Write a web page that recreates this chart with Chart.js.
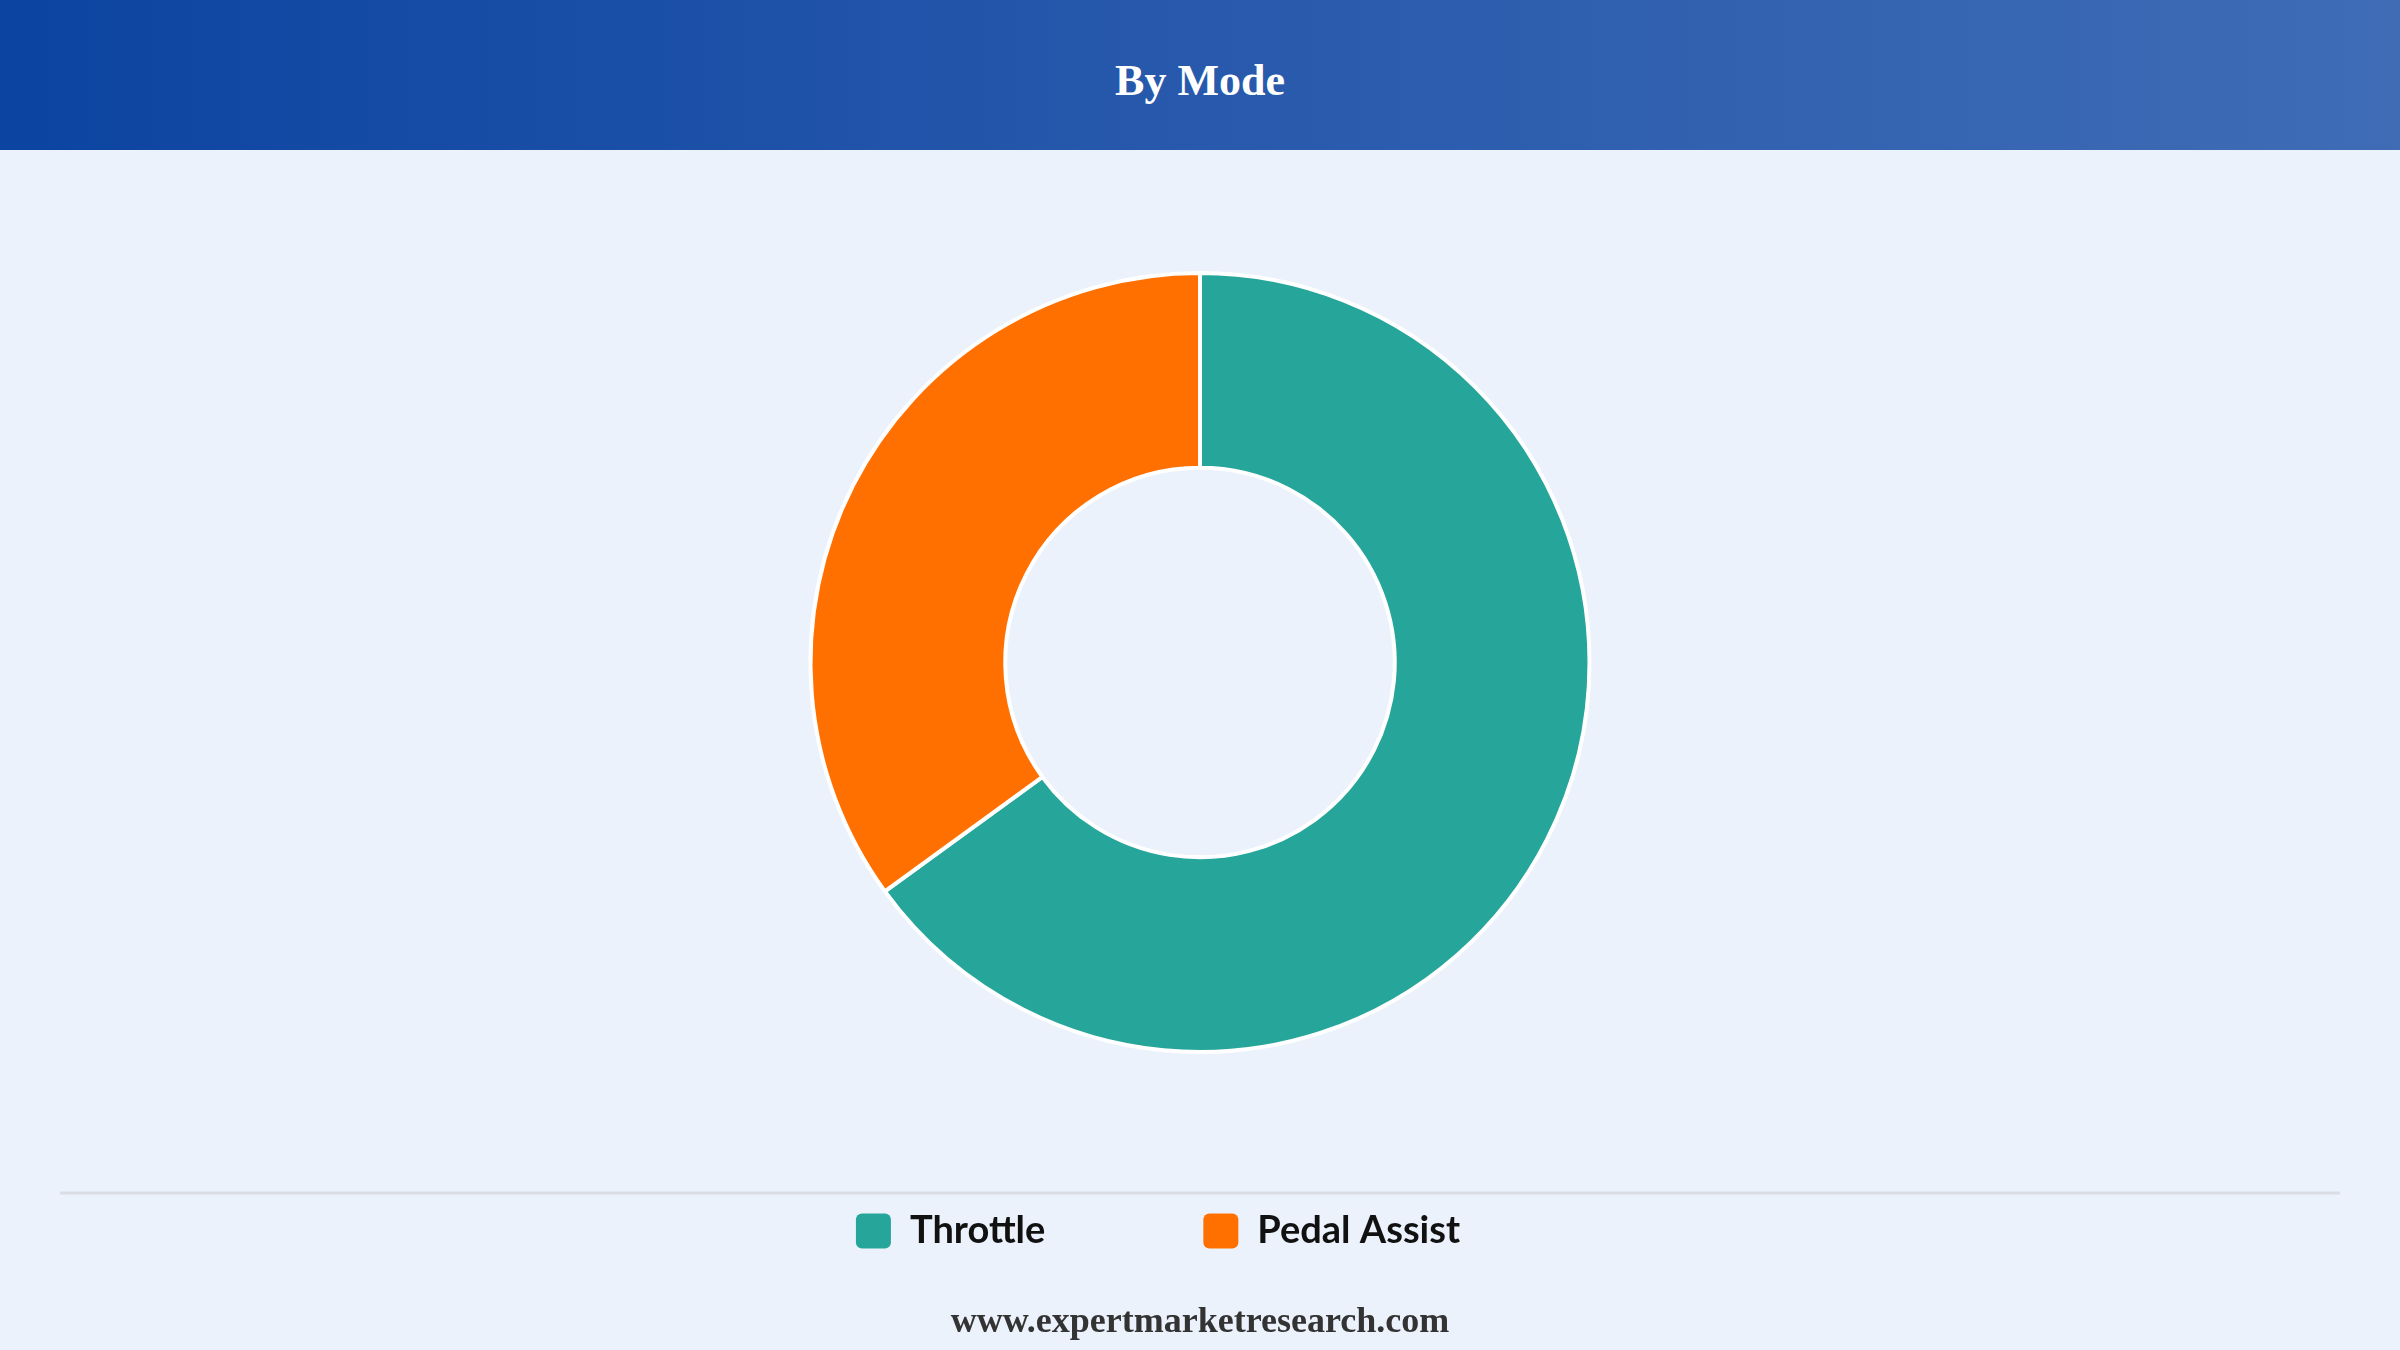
<!DOCTYPE html>
<html>
<head>
<meta charset="utf-8">
<title>By Mode</title>
<script src="https://cdn.jsdelivr.net/npm/chart.js@4.4.1/dist/chart.umd.min.js"></script>
<style>
    html, body {
        margin: 0;
        padding: 0;
        width: 2400px;
        height: 1350px;
        background: #ebf2fc;
        overflow: hidden;
    }
    .header {
        position: absolute;
        top: 0;
        left: 0;
        width: 2400px;
        height: 150px;
        background: linear-gradient(to right, #0b44a1, #2557ab 45%, #3f6cb5);
        color: #fff;
        font-family: "Liberation Serif", "Times New Roman", serif;
        font-weight: bold;
        font-size: 44px;
        text-align: center;
        line-height: 162px;
    }
    .chart-box {
        position: absolute;
        top: 150px;
        left: 0;
        width: 2400px;
        height: 1200px;
    }
    .footer {
        position: absolute;
        top: 1299px;
        left: 0;
        width: 2400px;
        text-align: center;
        font-family: "Liberation Serif", "Times New Roman", serif;
        font-weight: bold;
        font-size: 36px;
        color: #333;
    }
</style>
</head>
<body>
<div class="header">By Mode</div>
<div class="chart-box"><canvas id="modeChart"></canvas></div>
<div class="footer">www.expertmarketresearch.com</div>

<script>
// Chart data
const modeLabels = ['Throttle', 'Pedal Assist'];
const modeShares = [65, 35];
const modeColors = ['#26a69a', '#ff7000'];

// Legend sits a little left of centre in the original
const legendNudge = {
    id: 'legendNudge',
    afterLayout(chart) {
        chart.legend.left -= 42;
        chart.legend.right -= 42;
    }
};

// Draw the grey separator line above the legend
const separatorLine = {
    id: 'separatorLine',
    afterDraw(chart) {
        const legend = chart.legend;
        const ctx = chart.ctx;
        const y = legend.top + legend.options.labels.padding - 19;
        ctx.save();
        ctx.strokeStyle = '#dadde3';
        ctx.lineWidth = 3;
        ctx.beginPath();
        ctx.moveTo(60, y);
        ctx.lineTo(chart.width - 60, y);
        ctx.stroke();
        ctx.restore();
    }
};

const ctx = document.getElementById('modeChart').getContext('2d');
new Chart(ctx, {
    type: 'doughnut',
    data: {
        labels: modeLabels,
        datasets: [{
            data: modeShares,
            backgroundColor: modeColors,
            borderColor: '#ffffff',
            borderWidth: 4
        }]
    },
    options: {
        responsive: true,
        maintainAspectRatio: false,
        animation: false,
        cutout: '50%',
        layout: {
            padding: { top: 121, bottom: 90 }
        },
        plugins: {
            legend: {
                display: true,
                position: 'bottom',
                labels: {
                    padding: 158,
                    boxWidth: 35,
                    boxHeight: 35,
                    useBorderRadius: true,
                    borderRadius: 6,
                    color: '#111111',
                    font: { family: 'Lato', weight: 'bold', size: 38 },
                    generateLabels(chart) {
                        const items = Chart.overrides.doughnut.plugins.legend.labels.generateLabels(chart);
                        items.forEach(item => { item.lineWidth = 0; });
                        return items;
                    }
                }
            },
            tooltip: { enabled: false }
        }
    },
    plugins: [legendNudge, separatorLine]
});
</script>
</body>
</html>
